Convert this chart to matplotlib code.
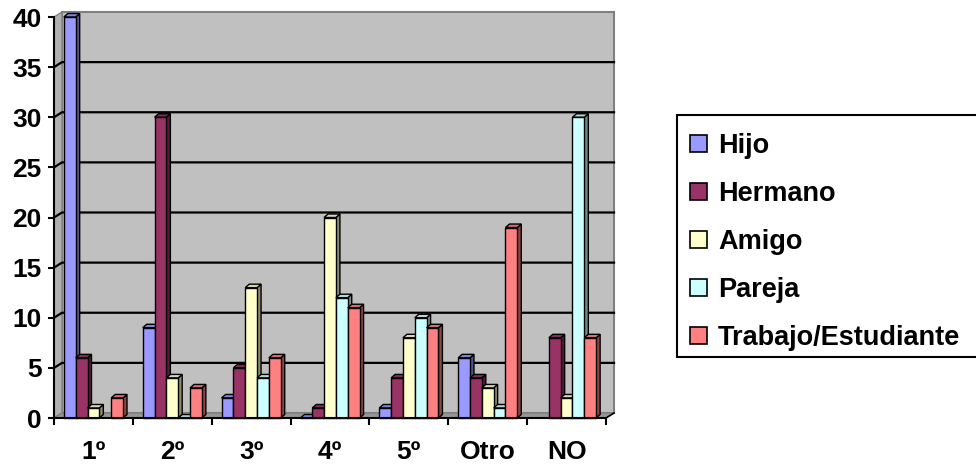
import numpy as np
import matplotlib
matplotlib.use("Agg")
import matplotlib.pyplot as plt
from matplotlib.patches import Polygon, Rectangle

plt.rcParams['font.family'] = ['Liberation Sans', 'DejaVu Sans']
plt.rcParams['font.weight'] = 'bold'

# data
categories = ['1º', '2º', '3º', '4º', '5º', 'Otro', 'NO']
series = ['Hijo', 'Hermano', 'Amigo', 'Pareja', 'Trabajo/Estudiante']
hijo = [40, 9, 2, 0, 1, 6, np.nan]
hermano = [6, 30, 5, 1, 4, 4, 8]
amigo = [1, 4, 13, 20, 8, 3, 2]
pareja = [np.nan, 0, 4, 12, 10, 1, 30]
trabajo = [2, 3, 6, 11, 9, 19, 8]
values = [hijo, hermano, amigo, pareja, trabajo]
colors = ['#9999FF', '#993366', '#FFFFCC', '#CCFFFF', '#FF8080']

W, H = 976, 468
fig = plt.figure(figsize=(W / 100, H / 100), dpi=100)
ax = fig.add_axes([54 / W, 50 / H, 552 / W, 401 / H])
ax.set_xlim(0, len(categories))
ax.set_ylim(0, 40)
ax.set_facecolor('none')

# pixel -> data unit conversion for the fake 3d offsets
ppx = 552 / len(categories)
ppy = 401 / 40
bx, by = 8 / ppx, 5 / ppy        # back wall offset
dx, dy = 4 / ppx, 3.5 / ppy      # bar depth
n = len(categories)
fs = 19
fs_leg = 19.5


def poly(pts, fc, ec, lw=1.0, z=1):
    p = Polygon(pts, closed=True, facecolor=fc, edgecolor=ec, linewidth=lw,
                zorder=z, clip_on=False)
    ax.add_patch(p)


def shade(c, f):
    r, g, b = matplotlib.colors.to_rgb(c)
    return (r * f, g * f, b * f)


# walls and floor
poly([(bx, by), (n + bx, by), (n + bx, 40 + by), (bx, 40 + by)], '#C0C0C0', '#808080', 1.5, 0)
poly([(0, 0), (bx, by), (bx, 40 + by), (0, 40)], '#B0B0B0', '#808080', 1.0, 0.5)
poly([(0, 0), (n, 0), (n + bx, by), (bx, by)], '#969696', '#808080', 1.0, 0.6)
for yv in range(5, 40, 5):
    ax.plot([0, bx, n + bx], [yv, yv + by, yv + by], color='black', lw=1.6,
            zorder=0.8, clip_on=False)

# bars
bw = 0.15
start = 0.125
for i in range(n):
    for k, (vals, c) in enumerate(zip(values, colors)):
        h = vals[i]
        if np.isnan(h):
            continue
        x0 = i + start + k * bw
        x1 = x0 + bw
        z = 2 + k * 0.01 + i
        poly([(x1, 0), (x1 + dx, dy), (x1 + dx, h + dy), (x1, h)], shade(c, 0.55), 'black', 1.0, z)
        poly([(x0, h), (x1, h), (x1 + dx, h + dy), (x0 + dx, h + dy)], shade(c, 0.85), 'black', 1.0, z)
        ax.add_patch(Rectangle((x0, 0), bw, h, facecolor=c, edgecolor='black',
                               linewidth=1.0, zorder=z, clip_on=False))

# axes
for s in ['top', 'right']:
    ax.spines[s].set_visible(False)
ax.spines['left'].set_linewidth(1.5)
ax.spines['bottom'].set_linewidth(1.5)
ax.spines['left'].set_zorder(50)
ax.spines['bottom'].set_zorder(50)
ax.plot([n, n + bx], [0, by], color='black', lw=1.2, zorder=50, clip_on=False)

ax.set_yticks(range(0, 41, 5))
ax.tick_params(axis='y', length=4, width=1.5, pad=5, labelsize=fs)
ax.set_xticks(range(n + 1))
ax.set_xticklabels([])
ax.set_xticks(np.arange(n) + 0.5, minor=True)
ax.set_xticklabels(categories, minor=True)
ax.tick_params(axis='x', which='major', length=5, width=1.5)
ax.tick_params(axis='x', which='minor', length=0, pad=16, labelsize=fs)
for t in ax.get_xticklabels(minor=True) + ax.get_yticklabels():
    t.set_fontweight('bold')

# legend drawn by hand to match the clipped box
fig.patches.append(Rectangle((677 / W, 1 - 357 / H), 330 / W, 242 / H,
                             transform=fig.transFigure, facecolor='white',
                             edgecolor='black', linewidth=1.5, figure=fig))
for k, (name, c) in enumerate(zip(series, colors)):
    yc = 143.5 + k * 48
    fig.patches.append(Rectangle((690 / W, 1 - (yc + 8.5) / H), 17 / W, 17 / H,
                                 transform=fig.transFigure, facecolor=c,
                                 edgecolor='black', linewidth=1.2, figure=fig))
    fig.text(718 / W, 1 - (yc + 9.5) / H, name, fontsize=fs_leg, fontweight='bold',
             va='baseline', ha='left')

fig.savefig('out.png', dpi=100)
